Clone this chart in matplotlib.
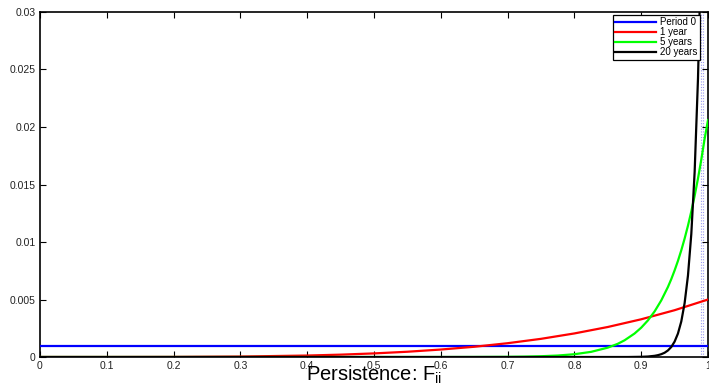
import matplotlib
matplotlib.use("Agg")
import matplotlib.pyplot as plt

plt.rcParams['font.family'] = ['Liberation Sans', 'DejaVu Sans']

# Period 0 (flat)
x_p0 = [0.0, 1.0]
y_p0 = [0.001, 0.001]

# 1 year
x_1y = [0.0, 0.1, 0.2, 0.3, 0.4, 0.45, 0.5, 0.55, 0.6, 0.65, 0.7, 0.75, 0.8,
        0.85, 0.9, 0.95, 1.0]
y_1y = [0.0, 0.0000005, 0.000008, 0.00004, 0.000128, 0.000205, 0.000313,
        0.000458, 0.00065, 0.00089, 0.0012, 0.00158, 0.00205, 0.00261,
        0.00328, 0.00407, 0.005]

# 5 years
x_5y = [0.0, 0.5, 0.6, 0.65, 0.7, 0.725, 0.75, 0.775, 0.8, 0.825, 0.85, 0.865,
        0.875, 0.89, 0.9, 0.91, 0.92, 0.93, 0.94, 0.945, 0.95, 0.955, 0.96,
        0.965, 0.97, 0.975, 0.98, 0.985, 0.99, 0.995, 1.0]
y_5y = [0.0, 0.00000002, 0.0000008, 0.0000038, 0.0000168, 0.000034, 0.000067,
        0.000128, 0.000242, 0.000448, 0.000815, 0.00115, 0.00145, 0.00204,
        0.00255, 0.00318, 0.00396, 0.00492, 0.00609, 0.00677, 0.00753,
        0.00836, 0.00928, 0.0103, 0.01142, 0.01266, 0.01402, 0.01552,
        0.01718, 0.0190, 0.0206]

# 20 years
x_20y = [0.0, 0.88, 0.9, 0.91, 0.92, 0.925, 0.93, 0.935, 0.94, 0.945, 0.95,
         0.955, 0.96, 0.965, 0.97, 0.975, 0.98, 0.985, 0.99]
y_20y = [0.0, 0.0000003, 0.000018, 0.000043, 0.000103, 0.00016, 0.000244,
         0.00037, 0.00057, 0.00087, 0.00134, 0.00204, 0.00309, 0.00469,
         0.00708, 0.0107, 0.0161, 0.0242, 0.0362]

labels = ['Period 0', '1 year', '5 years', '20 years']
colors = ['#0000ff', '#ff0000', '#00ff00', '#000000']

x_ticks = [0, 0.1, 0.2, 0.3, 0.4, 0.5, 0.6, 0.7, 0.8, 0.9, 1.0]
x_ticklabels = ['0', '0.1', '0.2', '0.3', '0.4', '0.5', '0.6', '0.7', '0.8', '0.9', '1']
y_ticks = [0, 0.005, 0.01, 0.015, 0.02, 0.025, 0.03]
y_ticklabels = ['0', '0.005', '0.01', '0.015', '0.02', '0.025', '0.03']

dotted_x = [0.989, 0.993]

fig = plt.figure(figsize=(7.09, 3.87), dpi=100)
ax = fig.add_axes([0.0564, 0.0775, 0.9422, 0.8915])

for xv in dotted_x:
    ax.axvline(xv, color='#9a9af0', lw=0.8, ls=(0, (1, 1.5)), zorder=1)

series = [(x_p0, y_p0), (x_1y, y_1y), (x_5y, y_5y), (x_20y, y_20y)]
for (xs, ys), lab, c in zip(series, labels, colors):
    ax.plot(xs, ys, color=c, lw=1.6, label=lab, zorder=3)

ax.set_xlim(0, 1)
ax.set_ylim(0, 0.03)
ax.set_xticks(x_ticks)
ax.set_xticklabels(x_ticklabels)
ax.set_yticks(y_ticks)
ax.set_yticklabels(y_ticklabels)
ax.tick_params(direction='in', length=4, width=0.8, top=True, right=True,
               labelsize=7.5, labelcolor='#222222', pad=3)
for s in ax.spines.values():
    s.set_linewidth(1.2)

ax.set_xlabel('Persistence: F$_{\\mathregular{ii}}$', fontsize=14.5, labelpad=-5.5)

leg = ax.legend(loc='upper right', bbox_to_anchor=(0.988, 0.992), fontsize=7,
                frameon=True, fancybox=False, edgecolor='black', framealpha=1,
                handlelength=4.2, handletextpad=0.4, labelspacing=0.0,
                borderpad=0.25, borderaxespad=0)
leg.get_frame().set_linewidth(0.9)

fig.savefig('out.png', dpi=100)
